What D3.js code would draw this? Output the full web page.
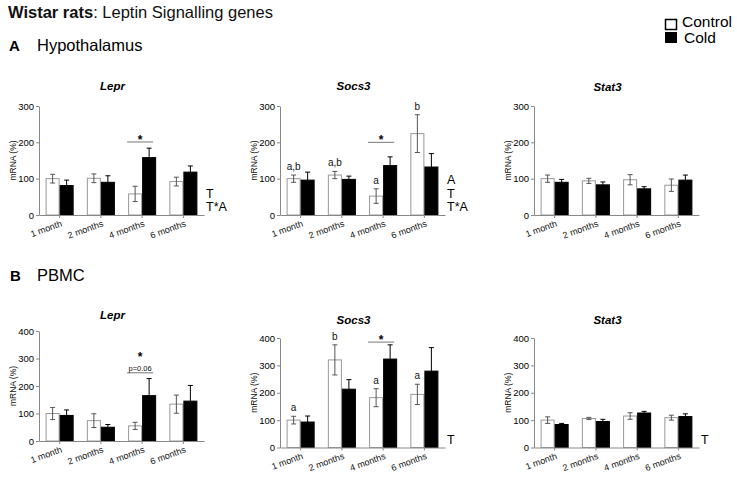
<!DOCTYPE html>
<html>
<head>
<meta charset="utf-8">
<script src="https://cdn.jsdelivr.net/npm/d3@7/dist/d3.min.js"></script>
<style>
  body { margin: 0; background: #fff; }
  svg { display: block; font-family: Arial, "Liberation Sans", sans-serif; }
</style>
</head>
<body>
<svg id="chart" width="737" height="478"></svg>
<script>
var months = ["1 month", "2 months", "4 months", "6 months"];
var groups = ["Control", "Cold"];

// Hypothalamus
var hypLeprControl = [100, 101, 58, 92];
var hypLeprControlErr = [12, 12, 21, 12];
var hypLeprCold = [81, 90, 158, 118];
var hypLeprColdErr = [15, 18, 26, 17];

var hypSocs3Control = [100, 110, 52, 224];
var hypSocs3ControlErr = [10, 10, 20, 52];
var hypSocs3Cold = [96, 98, 136, 132];
var hypSocs3ColdErr = [22, 9, 24, 37];

var hypStat3Control = [100, 94, 97, 82];
var hypStat3ControlErr = [10, 7, 14, 17];
var hypStat3Cold = [90, 83, 72, 96];
var hypStat3ColdErr = [8, 8, 6, 14];

// PBMC
var pbmcLeprControl = [100, 74, 55, 134];
var pbmcLeprControlErr = [22, 25, 13, 33];
var pbmcLeprCold = [93, 50, 165, 145];
var pbmcLeprColdErr = [20, 10, 62, 57];

var pbmcSocs3Control = [100, 320, 182, 194];
var pbmcSocs3ControlErr = [14, 55, 33, 37];
var pbmcSocs3Cold = [93, 213, 323, 279];
var pbmcSocs3ColdErr = [22, 35, 52, 86];

var pbmcStat3Control = [100, 106, 115, 109];
var pbmcStat3ControlErr = [12, 4, 12, 9];
var pbmcStat3Cold = [84, 95, 126, 113];
var pbmcStat3ColdErr = [4, 8, 6, 10];

// annotations
var hypSocs3Letters = ["a,b", "a,b", "a", "b"];
var pbmcSocs3Letters = ["a", "b", "a", "a"];
var hypLeprStats = ["T", "T*A"];
var hypSocs3Stats = ["A", "T", "T*A"];
var pbmcSocs3Stats = ["T"];
var pbmcStat3Stats = ["T"];

var topTicks = [0, 100, 200, 300];
var bottomTicks = [0, 100, 200, 300, 400];

var svg = d3.select("#chart");

// headings
var head = svg.append("text").attr("x", 8).attr("y", 18).attr("font-size", 16.5).attr("fill", "#111");
head.append("tspan").attr("font-weight", "bold").text("Wistar rats");
head.append("tspan").text(": Leptin Signalling genes");

svg.append("text").attr("x", 9).attr("y", 51).attr("font-size", 15).attr("font-weight", "bold").text("A");
svg.append("text").attr("x", 37).attr("y", 51).attr("font-size", 16.5).text("Hypothalamus");
svg.append("text").attr("x", 10).attr("y", 281).attr("font-size", 15).attr("font-weight", "bold").text("B");
svg.append("text").attr("x", 37).attr("y", 281).attr("font-size", 16.5).text("PBMC");

// legend
svg.append("rect").attr("x", 665.5).attr("y", 19.5).attr("width", 11).attr("height", 10)
  .attr("fill", "#fff").attr("stroke", "#000").attr("stroke-width", 1.5);
svg.append("text").attr("x", 682).attr("y", 27).attr("font-size", 15.5).text("Control");
svg.append("rect").attr("x", 665).attr("y", 32).attr("width", 12).attr("height", 11).attr("fill", "#000");
svg.append("text").attr("x", 684).attr("y", 43).attr("font-size", 15.5).text("Cold");

var panels = [
  {title: "Lepr", ctrl: hypLeprControl, ctrlErr: hypLeprControlErr, cold: hypLeprCold, coldErr: hypLeprColdErr,
   left: 39, top: 106, bottom: 215, max: 300, ticks: topTicks, titleY: 90,
   letters: null, sig: {group: 2, level: 201}, stats: hypLeprStats},
  {title: "Socs3", ctrl: hypSocs3Control, ctrlErr: hypSocs3ControlErr, cold: hypSocs3Cold, coldErr: hypSocs3ColdErr,
   left: 280, top: 106, bottom: 215, max: 300, ticks: topTicks, titleY: 90,
   letters: hypSocs3Letters, sig: {group: 2, level: 200}, stats: hypSocs3Stats},
  {title: "Stat3", ctrl: hypStat3Control, ctrlErr: hypStat3ControlErr, cold: hypStat3Cold, coldErr: hypStat3ColdErr,
   left: 534, top: 106, bottom: 215, max: 300, ticks: topTicks, titleY: 91,
   letters: null, sig: null, stats: []},
  {title: "Lepr", ctrl: pbmcLeprControl, ctrlErr: pbmcLeprControlErr, cold: pbmcLeprCold, coldErr: pbmcLeprColdErr,
   left: 39, top: 331, bottom: 441, max: 400, ticks: bottomTicks, titleY: 319,
   letters: null, sig: {group: 2, level: 248, note: "p=0.06"}, stats: []},
  {title: "Socs3", ctrl: pbmcSocs3Control, ctrlErr: pbmcSocs3ControlErr, cold: pbmcSocs3Cold, coldErr: pbmcSocs3ColdErr,
   left: 280, top: 338, bottom: 447.5, max: 400, ticks: bottomTicks, titleY: 324,
   letters: pbmcSocs3Letters, sig: {group: 2, level: 385}, stats: pbmcSocs3Stats},
  {title: "Stat3", ctrl: pbmcStat3Control, ctrlErr: pbmcStat3ControlErr, cold: pbmcStat3Cold, coldErr: pbmcStat3ColdErr,
   left: 534, top: 338, bottom: 447.5, max: 400, ticks: bottomTicks, titleY: 324,
   letters: null, sig: null, stats: pbmcStat3Stats}
];

var axisWidth = 165;

function drawPanel(p) {
  var g = svg.append("g");

  var x = d3.scaleBand()
    .domain(months)
    .range([p.left, p.left + axisWidth])
    .paddingInner(0.32)
    .paddingOuter(0.16);
  var xs = d3.scaleBand().domain(groups).range([0, x.bandwidth()]);
  var y = d3.scaleLinear().domain([0, p.max]).range([p.bottom, p.top]);

  // title
  g.append("text")
    .attr("x", p.left + axisWidth / 2 - 9)
    .attr("y", p.titleY)
    .attr("text-anchor", "middle")
    .attr("font-size", 11.5)
    .attr("font-weight", "bold")
    .attr("font-style", "italic")
    .text(p.title);

  // y axis
  var yAxis = g.append("g")
    .attr("transform", "translate(" + p.left + ",0)")
    .call(d3.axisLeft(y).tickValues(p.ticks).tickSize(3).tickPadding(2).tickSizeOuter(0));
  yAxis.attr("font-size", null).attr("font-family", null);
  yAxis.select(".domain").attr("stroke", "#888");
  yAxis.selectAll(".tick line").attr("stroke", "#888");
  yAxis.selectAll(".tick text").attr("font-size", 9.5).attr("fill", "#000");

  g.append("text")
    .attr("transform", "translate(" + (p.left - 23) + "," + ((p.top + p.bottom) / 2) + ") rotate(-90)")
    .attr("text-anchor", "middle")
    .attr("font-size", 8.5)
    .attr("fill", "#111")
    .text("mRNA (%)");

  // bars
  var rows = [];
  months.forEach(function(m, i) {
    rows.push({month: m, group: "Control", value: p.ctrl[i], err: p.ctrlErr[i]});
    rows.push({month: m, group: "Cold", value: p.cold[i], err: p.coldErr[i]});
  });

  g.selectAll("rect.bar")
    .data(rows)
    .enter().append("rect")
    .attr("class", "bar")
    .attr("x", function(d) { return x(d.month) + xs(d.group) + 0.5; })
    .attr("y", function(d) { return y(d.value); })
    .attr("width", xs.bandwidth() - 1)
    .attr("height", function(d) { return y(0) - y(d.value); })
    .attr("fill", function(d) { return d.group === "Control" ? "#fff" : "#000"; })
    .attr("stroke", function(d) { return d.group === "Control" ? "#999" : "#000"; })
    .attr("stroke-width", 1);

  // error bars
  var eb = g.selectAll("g.err")
    .data(rows)
    .enter().append("g")
    .attr("class", "err")
    .attr("stroke", function(d) { return d.group === "Control" ? "#555" : "#000"; })
    .attr("stroke-width", 1);
  var cx = function(d) { return x(d.month) + xs(d.group) + xs.bandwidth() / 2; };
  eb.append("line")
    .attr("x1", cx).attr("x2", cx)
    .attr("y1", function(d) { return y(d.value - d.err); })
    .attr("y2", function(d) { return y(d.value + d.err); });
  eb.append("line")
    .attr("x1", function(d) { return cx(d) - 2.5; })
    .attr("x2", function(d) { return cx(d) + 2.5; })
    .attr("y1", function(d) { return y(d.value + d.err); })
    .attr("y2", function(d) { return y(d.value + d.err); });
  eb.filter(function(d) { return d.group === "Control"; })
    .append("line")
    .attr("x1", function(d) { return cx(d) - 2.5; })
    .attr("x2", function(d) { return cx(d) + 2.5; })
    .attr("y1", function(d) { return y(d.value - d.err); })
    .attr("y2", function(d) { return y(d.value - d.err); });

  // x axis
  var xAxis = g.append("g")
    .attr("transform", "translate(0," + p.bottom + ")")
    .call(d3.axisBottom(x).tickSize(3).tickSizeOuter(0).tickFormat(""));
  xAxis.select(".domain").attr("stroke", "#888");
  xAxis.selectAll(".tick line").attr("stroke", "#888");

  g.selectAll("text.xlab")
    .data(months)
    .enter().append("text")
    .attr("class", "xlab")
    .attr("transform", function(d) {
      return "translate(" + (x(d) + x.bandwidth() / 2 + 3) + "," + (p.bottom + 11) + ") rotate(-20)";
    })
    .attr("text-anchor", "end")
    .attr("font-size", 9)
    .attr("fill", "#111")
    .text(function(d) { return d; });

  // group letters over control bars
  if (p.letters) {
    g.selectAll("text.letter")
      .data(p.letters)
      .enter().append("text")
      .attr("class", "letter")
      .attr("x", function(d, i) { return x(months[i]) + xs("Control") + xs.bandwidth() / 2; })
      .attr("y", function(d, i) { return y(p.ctrl[i] + p.ctrlErr[i]) - 5; })
      .attr("text-anchor", "middle")
      .attr("font-size", 10)
      .attr("fill", "#111")
      .text(function(d) { return d; });
  }

  // significance bracket
  if (p.sig) {
    var m = months[p.sig.group];
    var ly = y(p.sig.level);
    g.append("line")
      .attr("x1", x(m) - 1).attr("x2", x(m) + x.bandwidth() - 3)
      .attr("y1", ly).attr("y2", ly)
      .attr("stroke", "#777").attr("stroke-width", 1);
    var starBase = ly + 2;
    if (p.sig.note) {
      g.append("text")
        .attr("x", x(m) + x.bandwidth() / 2 - 2)
        .attr("y", ly - 1.5)
        .attr("text-anchor", "middle")
        .attr("font-size", 7.5)
        .attr("fill", "#111")
        .text(p.sig.note);
      starBase = ly - 12;
    }
    g.append("text")
      .attr("x", x(m) + x.bandwidth() / 2 - 2)
      .attr("y", starBase)
      .attr("text-anchor", "middle")
      .attr("font-size", 12)
      .attr("font-weight", "bold")
      .text("*");
  }

  // ANOVA effects, stacked up from the axis
  var n = p.stats.length;
  g.selectAll("text.stat")
    .data(p.stats)
    .enter().append("text")
    .attr("class", "stat")
    .attr("x", p.left + axisWidth + 2)
    .attr("y", function(d, i) { return p.bottom - 4 - (n - 1 - i) * 13.5; })
    .attr("font-size", 12.5)
    .attr("fill", "#000")
    .text(function(d) { return d; });
}

panels.forEach(drawPanel);
</script>
</body>
</html>
